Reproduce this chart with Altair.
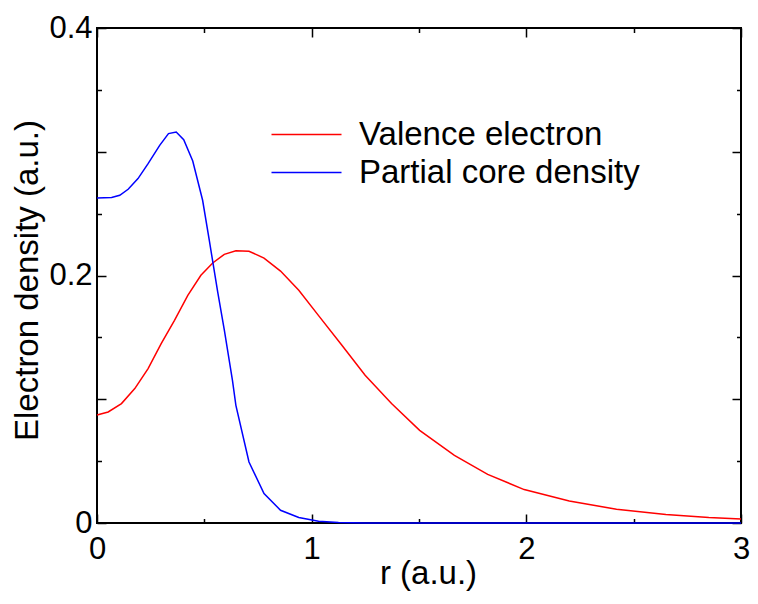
import altair as alt
import pandas as pd

# ---- data ----
series = ["Valence electron", "Partial core density"]
colors = ["#ff0000", "#0000ff"]

r_valence = [0, 0.052, 0.114, 0.176, 0.238, 0.299, 0.361, 0.423, 0.484,
             0.539, 0.593, 0.647, 0.708, 0.778, 0.855, 0.940, 1.035, 1.139,
             1.249, 1.372, 1.503, 1.665, 1.82, 1.99, 2.20, 2.42, 2.65, 2.85,
             3.0]
valence = [0.0873, 0.0897, 0.0965, 0.1086, 0.1248, 0.145, 0.1638, 0.184,
           0.2002, 0.2101, 0.2171, 0.2200, 0.2196, 0.2141, 0.2036, 0.1881,
           0.167, 0.144, 0.1194, 0.0965, 0.0749, 0.0547, 0.0393, 0.027,
           0.0178, 0.0111, 0.0068, 0.0044, 0.0032]

r_core = [0, 0.068, 0.106, 0.145, 0.191, 0.238, 0.292, 0.333, 0.369, 0.404,
          0.446, 0.492, 0.523, 0.562, 0.593, 0.631, 0.647, 0.708, 0.778,
          0.855, 0.940, 1.032, 1.125, 1.25, 1.5, 2.0, 2.5, 3.0]
core = [0.2626, 0.263, 0.2648, 0.2697, 0.2783, 0.2904, 0.3052, 0.3147,
        0.316, 0.3098, 0.2925, 0.2608, 0.2285, 0.187, 0.156, 0.1153, 0.0951,
        0.0493, 0.0238, 0.0103, 0.0044, 0.0014, 0.0004, 0.0001, 0, 0, 0, 0]

x_labels = [0, 1, 2, 3]
y_labels = [0, 0.2, 0.4]
x_ticks = [0, 0.5, 1, 1.5, 2, 2.5, 3]
y_ticks = [0, 0.05, 0.1, 0.15, 0.2, 0.25, 0.3, 0.35, 0.4]

df = pd.concat([
    pd.DataFrame({"r": r_valence, "density": valence, "series": series[0]}),
    pd.DataFrame({"r": r_core, "density": core, "series": series[1]}),
], ignore_index=True)

W, H = 644, 495
FONT = "Liberation Sans"

xscale = alt.Scale(domain=[0, 3], nice=False, zero=False)
yscale = alt.Scale(domain=[0, 0.4], nice=False)

major_x = "abs(datum.value - round(datum.value)) < 0.001"
major_y = "abs(datum.value * 10 - round(datum.value * 10)) < 0.001"


def tick_axis(orient, offset, values, test):
    return alt.Axis(
        orient=orient, offset=offset, values=values, labels=False,
        domain=False, grid=False, ticks=True,
        tickSize={"condition": {"test": test, "value": 9}, "value": 4.5},
        tickColor="black", tickWidth=1.5, title=None,
    )


main = alt.Chart(df).mark_line(strokeWidth=1.5).encode(
    x=alt.X("r:Q", scale=xscale, axis=alt.Axis(
        orient="bottom", values=x_labels, ticks=False, tickSize=0,
        domain=False, grid=False, labelFont=FONT, labelFontSize=31,
        labelColor="black", labelPadding=11, labelFlush=False,
        title="r (a.u.)", titleFont=FONT, titleFontSize=33,
        titleFontWeight="normal", titleColor="black", titleLimit=1000,
        titleBaseline="alphabetic", titleX=331, titleY=60)),
    y=alt.Y("density:Q", scale=yscale, axis=alt.Axis(
        orient="left", values=y_labels, format="~g", ticks=False,
        tickSize=0, domain=False, grid=False, labelFont=FONT,
        labelFontSize=31, labelColor="black", labelPadding=5,
        labelFlush=False,
        title="Electron density (a.u.)", titleFont=FONT, titleFontSize=33,
        titleFontWeight="normal", titleColor="black", titleLimit=1000,
        titleX=-53, titleY=252)),
    color=alt.Color("series:N", scale=alt.Scale(domain=series, range=colors),
                    legend=alt.Legend(
                        orient="none", legendX=193, legendY=90, title=None,
                        symbolType="M-3.5,0H3.5", symbolSize=400,
                        symbolStrokeWidth=1.5, labelFont=FONT,
                        labelFontSize=33, labelColor="black",
                        labelLimit=1000, labelOffset=36, rowPadding=4,
                        padding=0)),
)

ticks_a = alt.Chart(df).mark_line(strokeOpacity=0).encode(
    x=alt.X("r:Q", scale=xscale, axis=tick_axis("top", -H, x_ticks, major_x)),
    y=alt.Y("density:Q", scale=yscale, axis=tick_axis("right", -W, y_ticks, major_y)),
)

ticks_b = alt.Chart(df).mark_line(strokeOpacity=0).encode(
    x=alt.X("r:Q", scale=xscale, axis=tick_axis("bottom", -H, x_ticks, major_x)),
    y=alt.Y("density:Q", scale=yscale, axis=tick_axis("left", -W, y_ticks, major_y)),
)

chart = alt.layer(main, ticks_a, ticks_b).resolve_axis(
    x="independent", y="independent"
).properties(
    width=W, height=H,
    autosize=alt.AutoSizeParams(type="none"),
    padding={"left": 89, "top": 20, "right": 9, "bottom": 69},
).configure_view(stroke="black", strokeWidth=2)

chart.save("out.html", embed_options={"renderer": "svg", "actions": False})
